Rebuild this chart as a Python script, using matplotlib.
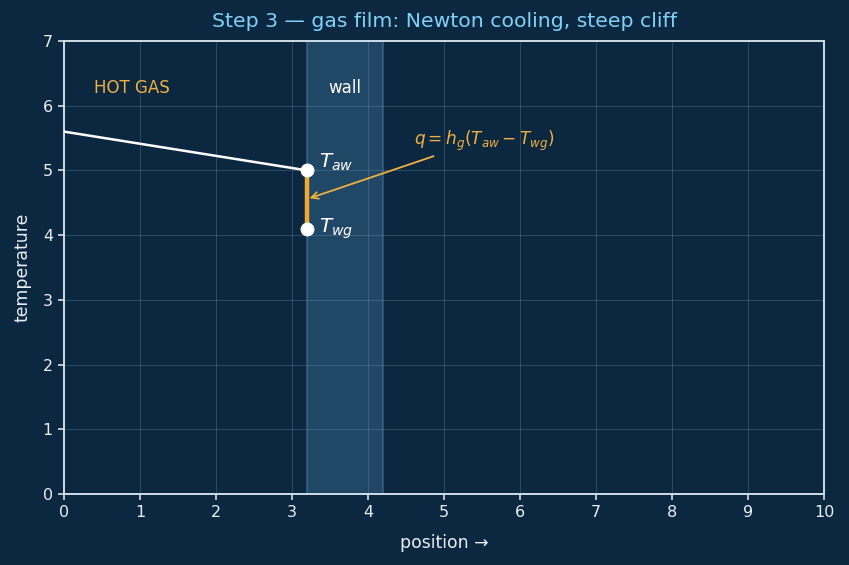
import matplotlib
matplotlib.use("Agg")
import matplotlib.pyplot as plt

gas_x = [0.0, 3.2]
gas_y = [5.6, 5.0]
wall_span = [3.2, 4.2]
T_aw = 5.0
T_wg = 4.1
x_wall = 3.2
xticks = list(range(0, 11))
yticks = list(range(0, 8))

BG = "#0c2840"
FG = "#e8eef4"

fig, ax = plt.subplots(figsize=(8.49, 5.65), dpi=100)
fig.patch.set_facecolor(BG)
ax.set_facecolor(BG)

ax.axvspan(wall_span[0], wall_span[1], facecolor="#3a7096", alpha=0.45,
           edgecolor="#5a90b8", lw=1.2, zorder=0)
ax.grid(True, color="#8fb0c8", alpha=0.25, lw=0.7)
ax.set_axisbelow(True)

ax.plot(gas_x, gas_y, color="white", lw=1.8, zorder=3)
ax.plot([x_wall, x_wall], [T_aw, T_wg], color="#f0a830", lw=3.2, zorder=3)
ax.plot([x_wall, x_wall], [T_aw, T_wg], "o", color="white", ms=9, zorder=4)

ax.text(x_wall + 0.15, T_aw + 0.13, r"$T_{aw}$", color="white", fontsize=14.5, va="center")
ax.text(x_wall + 0.15, T_wg + 0.0, r"$T_{wg}$", color="white", fontsize=14.5, va="center")
ax.text(0.4, 6.28, "HOT GAS", color="#f0b040", fontsize=12, va="center")
ax.text(3.48, 6.28, "wall", color="white", fontsize=12, va="center")

ax.annotate(r"$q = h_g(T_{aw} - T_{wg})$", xy=(x_wall + 0.03, 4.57), xytext=(4.6, 5.45),
            color="#f0b040", fontsize=12.2, va="center",
            arrowprops=dict(arrowstyle="->", color="#f0b040", lw=1.3,
                            shrinkA=0, shrinkB=0, relpos=(0.15, -0.1)))

ax.set_xlim(0, 10)
ax.set_ylim(0, 7)
ax.set_xticks(xticks)
ax.set_yticks(yticks)
ax.set_xlabel("position →", color=FG, fontsize=12.4, labelpad=10)
ax.set_ylabel("temperature", color=FG, fontsize=12.4, labelpad=8)
ax.set_title("Step 3 — gas film: Newton cooling, steep cliff", color="#80d0f8", fontsize=14.7, pad=10)
ax.tick_params(colors=FG, labelsize=11.5, length=4.5, width=1.1)
for s in ax.spines.values():
    s.set_color("#d0dde8")
    s.set_linewidth(1.4)

fig.subplots_adjust(left=0.0754, right=0.9706, top=0.9274, bottom=0.1257)
fig.savefig("out.png", dpi=100, facecolor=BG)
